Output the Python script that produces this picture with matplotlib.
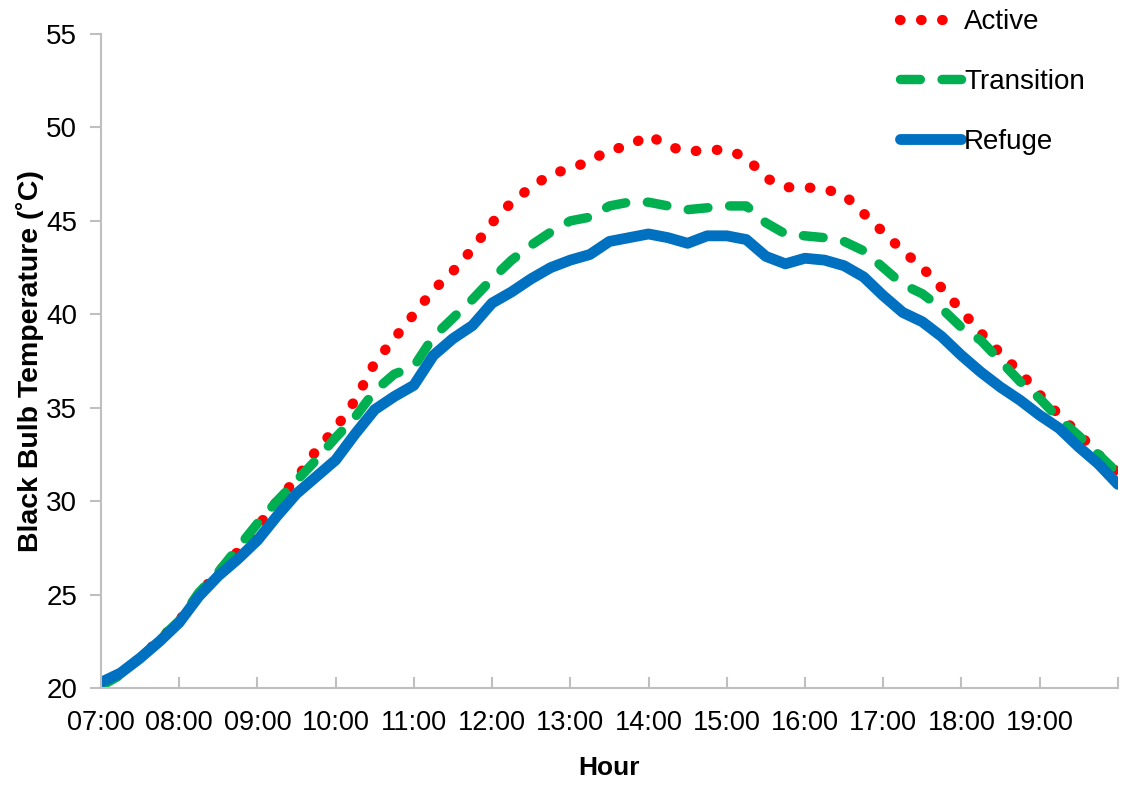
import numpy as np
import matplotlib
matplotlib.use("Agg")
import matplotlib.pyplot as plt
from matplotlib.ticker import FixedLocator, FuncFormatter

plt.rcParams['font.family'] = ['Liberation Sans', 'DejaVu Sans']

# quarter-hour readings, 07:00 to 20:00
hours = np.arange(7, 20.001, 0.25)

active = [20.2, 20.8, 21.6, 22.6, 23.6, 25.0, 26.2, 27.3, 28.6, 30.0,
          31.2, 32.7, 33.9, 35.4, 37.4, 38.7, 40.0, 41.3, 42.3, 43.5,
          44.9, 46.0, 46.8, 47.5, 47.8, 48.2, 48.8, 49.0, 49.6, 49.0,
          48.7, 48.8, 48.8, 48.4, 47.3, 46.8, 46.8, 46.7, 46.4, 45.4,
          44.4, 43.4, 42.5, 41.4, 40.2, 39.0, 37.9, 36.9, 35.7, 34.6,
          33.6, 32.5, 31.5]

transition = [20.1, 20.7, 21.6, 22.6, 23.6, 25.1, 26.2, 27.5, 28.8, 30.0,
              31.1, 32.2, 33.4, 34.5, 35.9, 36.8, 37.2, 38.8, 39.8, 40.8,
              41.9, 42.9, 43.7, 44.4, 45.0, 45.2, 45.8, 46.0, 46.0, 45.8,
              45.6, 45.7, 45.8, 45.8, 44.9, 44.3, 44.2, 44.1, 43.9, 43.4,
              42.5, 41.6, 41.1, 40.3, 39.3, 38.6, 37.5, 36.4, 35.5, 34.4,
              33.5, 32.5, 31.5]

refuge = [20.3, 20.8, 21.6, 22.5, 23.5, 24.9, 26.0, 26.9, 27.9, 29.2,
          30.4, 31.3, 32.2, 33.6, 34.9, 35.6, 36.2, 37.8, 38.7, 39.4,
          40.6, 41.2, 41.9, 42.5, 42.9, 43.2, 43.9, 44.1, 44.3, 44.1,
          43.8, 44.2, 44.2, 44.0, 43.1, 42.7, 43.0, 42.9, 42.6, 42.0,
          41.0, 40.1, 39.6, 38.8, 37.8, 36.9, 36.1, 35.4, 34.6, 33.9,
          32.9, 32.0, 30.9]

hour_ticks = list(range(7, 21))
y_ticks = [20, 25, 30, 35, 40, 45, 50, 55]

fig = plt.figure(figsize=(11.28, 7.86), dpi=100)
ax = fig.add_axes([0.0895, 0.1247, 0.9015, 0.832])

ax.plot(hours, active, color='#FF0000', lw=7.4, linestyle=(0, (0.05, 2.0)),
        dash_capstyle='round', label='Active')
ax.plot(hours, transition, color='#00B050', lw=6.8, linestyle=(0, (2.1, 2.3)),
        dash_capstyle='round', label='Transition')
ax.plot(hours, refuge, color='#0070C0', lw=7.8, solid_capstyle='round',
        solid_joinstyle='round', label='Refuge')

ax.set_xlim(7, 20)
ax.set_ylim(20, 55)
ax.xaxis.set_major_locator(FixedLocator(hour_ticks))
ax.xaxis.set_major_formatter(FuncFormatter(lambda v, p: '' if v >= 20 else f'{int(v):02d}:00'))
ax.set_yticks(y_ticks)

for side in ['top', 'right']:
    ax.spines[side].set_visible(False)
for side in ['left', 'bottom']:
    ax.spines[side].set_color('#BFBFBF')
    ax.spines[side].set_linewidth(1.5)

ax.tick_params(axis='x', direction='in', length=8, width=1.5, color='#BFBFBF',
               labelsize=19.5, pad=16)
ax.tick_params(axis='y', direction='out', length=8, width=1.5, color='#BFBFBF',
               labelsize=20, pad=9)

ax.set_xlabel('Hour', fontsize=19, fontweight='bold', labelpad=14)
ax.set_ylabel('Black Bulb Temperature (˚C)', fontsize=20.5, fontweight='bold', labelpad=2)

fig.legend(loc='upper left', bbox_to_anchor=(0.776, 1.02), frameon=False,
           fontsize=20, handlelength=2.2, handletextpad=0.1, labelspacing=1.22)

fig.savefig('out.png', dpi=100)
